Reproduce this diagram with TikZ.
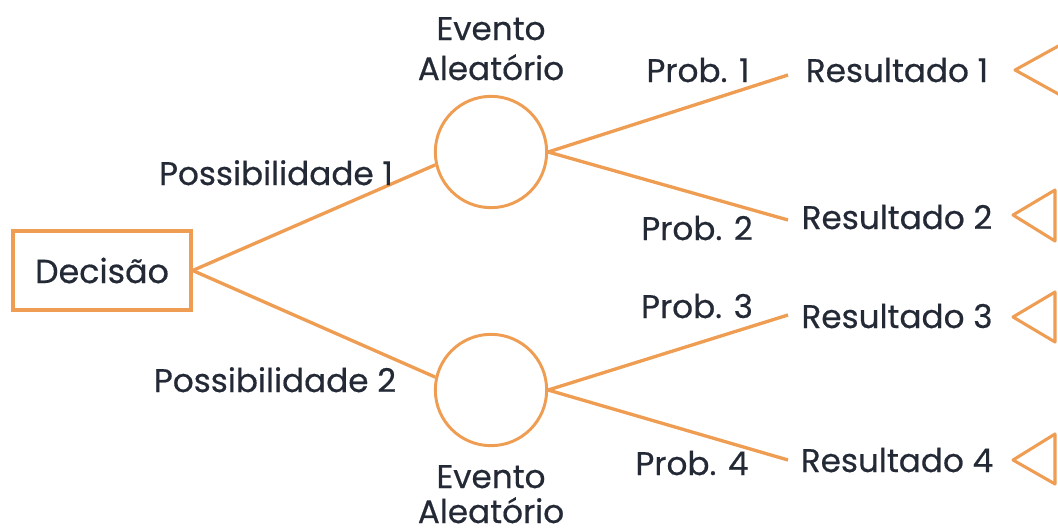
\documentclass[tikz,border=0pt]{standalone}
\usepackage{fontspec}
\setmainfont{Poppins}[FakeBold=0.5]
\definecolor{tree}{RGB}{238,157,82}
\definecolor{ink}{RGB}{36,41,54}

\begin{document}
\begin{tikzpicture}[x=0.75pt,y=-0.75pt,
  branch/.style={draw=tree,line width=2.5pt},
  leaf/.style={draw=tree,line width=2.3pt,line join=round},
  txt/.style={text=ink,font=\fontsize{24.5}{29}\selectfont,inner sep=0pt,anchor=base},
  decbox/.style={draw=tree,line width=3pt,fill=white,minimum width=133pt,minimum height=59pt,
    text=ink,font=\fontsize{25}{29}\selectfont},
  chance/.style={circle,draw=tree,line width=2.2pt,fill=white,minimum size=83.5pt,inner sep=0pt}]
\useasboundingbox (0,0) rectangle (1058,532);

% decision and chance nodes
\node[decbox] (dec) at (102,270.5) {Decisão};
\node[chance] (c1) at (491,152) {};
\node[chance] (c2) at (491,390) {};

% ends of the outcome branches
\coordinate (e1) at (788,75);
\coordinate (e2) at (788,220);
\coordinate (e3) at (788,315);
\coordinate (e4) at (788,460);

% branches
\draw[branch] (dec.east) -- (c1.193);
\draw[branch] (dec.east) -- (c2.167);
\draw[branch] (c1.east) -- (e1);
\draw[branch] (c1.east) -- (e2);
\draw[branch] (c2.east) -- (e3);
\draw[branch] (c2.east) -- (e4);

% labels
\node[txt] (ev1a) at (491,40) {Evento};
\node[txt] (ev1b) at (491,80) {Aleatório};
\node[txt] (ev2a) at (491,488) {Evento};
\node[txt] (ev2b) at (491,523) {Aleatório};
\node[txt] (pos1) at (276,185) {Possibilidade 1};
\node[txt] (pos2) at (275,392) {Possibilidade 2};
\node[txt] (p1) at (698,82) {Prob. 1};
\node[txt] (p2) at (697,240) {Prob. 2};
\node[txt] (p3) at (697,318) {Prob. 3};
\node[txt] (p4) at (692,475) {Prob. 4};
\node[txt] (r1) at (897,82) {Resultado 1};
\node[txt] (r2) at (897,229) {Resultado 2};
\node[txt] (r3) at (897,328) {Resultado 3};
\node[txt] (r4) at (897,472) {Resultado 4};

% terminal markers
\draw[leaf] (1062,44) -- (1015,70) -- (1062,96) -- cycle;
\draw[leaf] (1055,190) -- (1013,215) -- (1055,241) -- cycle;
\draw[leaf] (1055,292) -- (1013,317) -- (1055,342) -- cycle;
\draw[leaf] (1055,434) -- (1013,460) -- (1055,484) -- cycle;
\end{tikzpicture}
\end{document}
